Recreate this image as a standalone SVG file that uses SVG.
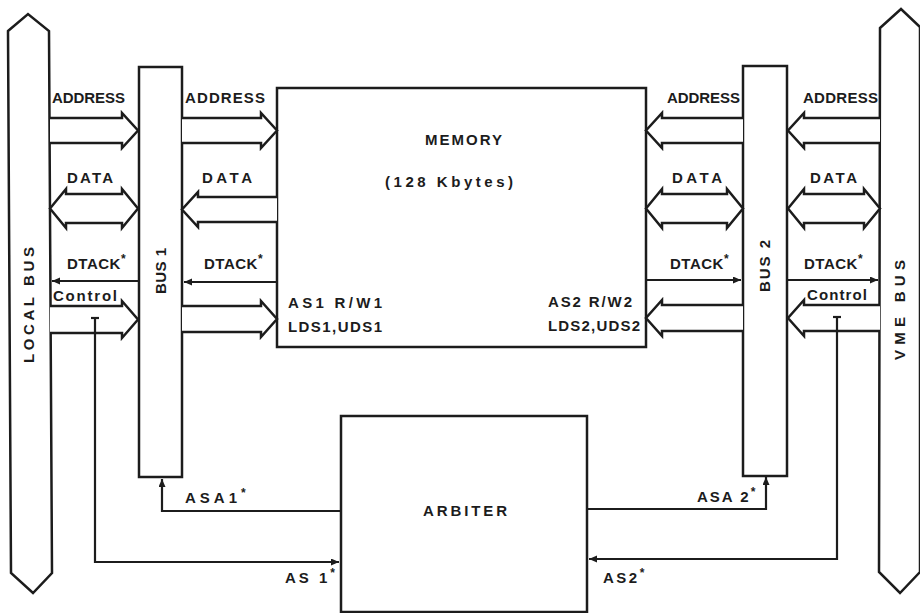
<svg xmlns="http://www.w3.org/2000/svg" width="920" height="613" viewBox="0 0 920 613">
<style>
.n{fill:#fff;stroke:#1c1c1c;stroke-width:2.5;stroke-linejoin:miter}
.a{fill:#fff;stroke:#1c1c1c;stroke-width:2.5;stroke-linejoin:miter}
.l{fill:none;stroke:#1c1c1c;stroke-width:2.2}
.t{font-family:"Liberation Sans",Arial,sans-serif;font-weight:bold;font-size:15px;fill:#1c1c1c}
.c{font-family:"Liberation Sans",Arial,sans-serif;font-weight:bold;font-size:15px;fill:#1c1c1c}
.s{font-size:12px}
</style>
<defs>
<marker id="ah" markerUnits="userSpaceOnUse" markerWidth="9" markerHeight="8" refX="8" refY="3.5" orient="auto">
<path d="M0,0 L8,3.5 L0,7 z" fill="#1c1c1c"/>
</marker>
</defs>
<rect width="920" height="613" fill="#fff"/>

<g id="local-bus">
<polygon class="n" points="8,31 28,14 49,31 52,573 33,593 11,573"/>
<text class="t" transform="translate(34,305) rotate(-90)" text-anchor="middle" textLength="116" lengthAdjust="spacing">LOCAL BUS</text>
</g>
<g id="vme-bus">
<polygon class="n" points="880,28 901,9 920,27 920,572 900,593 879,572"/>
<text class="t" transform="translate(905,310) rotate(-90)" text-anchor="middle" textLength="100" lengthAdjust="spacing">VME BUS</text>
</g>
<g id="bus1">
<rect class="n" x="139" y="67" width="43" height="410"/>
<text class="t" transform="translate(166,271) rotate(-90)" text-anchor="middle" textLength="46" lengthAdjust="spacing">BUS 1</text>
</g>
<g id="bus2">
<rect class="n" x="743" y="66" width="44" height="410"/>
<text class="t" transform="translate(770,266) rotate(-90)" text-anchor="middle" textLength="52" lengthAdjust="spacing">BUS 2</text>
</g>
<g id="memory">
<rect class="n" x="277" y="88" width="369" height="259"/>
<text class="t" x="425" y="145" textLength="77" lengthAdjust="spacing">MEMORY</text>
<text class="t" x="385" y="187" textLength="128" lengthAdjust="spacing">(128 Kbytes)</text>
<text class="t" x="288" y="308" textLength="94" lengthAdjust="spacing">AS1 R/W1</text>
<text class="t" x="288" y="332" textLength="94" lengthAdjust="spacing">LDS1,UDS1</text>
<text class="t" x="548" y="307" textLength="84" lengthAdjust="spacing">AS2 R/W2</text>
<text class="t" x="548" y="331" textLength="92" lengthAdjust="spacing">LDS2,UDS2</text>
</g>
<g id="arbiter">
<rect class="n" x="341" y="416" width="246" height="196"/>
<text class="t" x="423" y="516" textLength="84" lengthAdjust="spacing">ARBITER</text>
</g>

<g id="connectors">
<!-- left: local bus <-> bus1 -->
<path class="a" d="M50,118 H122 V113 L138,130.5 L122,148 V143 H50"/>
<path class="a" d="M50,208.5 L66,189 V194 H122 V189 L138,208.5 L122,228 V223 H66 V228 Z"/>
<path class="a" d="M50,306 H122 V301 L138,319.5 L122,338 V333 H50"/>
<line class="l" x1="138" y1="281" x2="52" y2="281" marker-end="url(#ah)"/>
<!-- bus1 <-> memory -->
<path class="a" d="M182,118 H261 V113 L277,130.5 L261,148 V143 H182"/>
<path class="a" d="M277,197 H198 V192 L182,209.5 L198,227 V222 H277"/>
<path class="a" d="M182,306 H261 V301 L277,319 L261,337 V332 H182"/>
<line class="l" x1="277" y1="282" x2="184" y2="282" marker-end="url(#ah)"/>
<!-- memory <-> bus2 -->
<path class="a" d="M743,118 H662 V113 L646,130.5 L662,148 V143 H743"/>
<path class="a" d="M646,208.5 L662,189 V194 H727 V189 L743,208.5 L727,228 V223 H662 V228 Z"/>
<path class="a" d="M743,305 H662 V300 L646,318 L662,336 V331 H743"/>
<line class="l" x1="646" y1="280" x2="741" y2="280" marker-end="url(#ah)"/>
<!-- bus2 <-> vme bus -->
<path class="a" d="M880,118 H804 V113 L788,130.5 L804,148 V143 H880"/>
<path class="a" d="M788,208.5 L804,189 V194 H864 V189 L880,208.5 L864,228 V223 H804 V228 Z"/>
<path class="a" d="M880,305 H804 V300 L788,318 L804,336 V331 H880"/>
<line class="l" x1="788" y1="280" x2="878" y2="280" marker-end="url(#ah)"/>
<!-- arbiter lines -->
<line class="l" x1="91" y1="318" x2="99" y2="318"/>
<path class="l" d="M95,318 V562 H339" marker-end="url(#ah)"/>
<line class="l" x1="833" y1="317" x2="841" y2="317"/>
<path class="l" d="M837,317 V559 H589" marker-end="url(#ah)"/>
<path class="l" d="M341,511 H162 V479" marker-end="url(#ah)"/>
<path class="l" d="M587,509 H766 V477" marker-end="url(#ah)"/>

<!-- labels -->
<text class="t" x="52" y="103" textLength="73" lengthAdjust="spacing">ADDRESS</text>
<text class="t" x="185" y="103" textLength="80" lengthAdjust="spacing">ADDRESS</text>
<text class="t" x="667" y="103" textLength="73" lengthAdjust="spacing">ADDRESS</text>
<text class="t" x="803" y="103" textLength="75" lengthAdjust="spacing">ADDRESS</text>
<text class="t" x="67" y="183" textLength="46" lengthAdjust="spacing">DATA</text>
<text class="t" x="202" y="183" textLength="50" lengthAdjust="spacing">DATA</text>
<text class="t" x="672" y="183" textLength="50" lengthAdjust="spacing">DATA</text>
<text class="t" x="810" y="183" textLength="47" lengthAdjust="spacing">DATA</text>
<text class="t" x="67" y="269" style="letter-spacing:0.5px">DTACK<tspan class="s" dy="-6">*</tspan></text>
<text class="t" x="204" y="269" style="letter-spacing:0.5px">DTACK<tspan class="s" dy="-6">*</tspan></text>
<text class="t" x="670" y="269" style="letter-spacing:0.5px">DTACK<tspan class="s" dy="-6">*</tspan></text>
<text class="t" x="804" y="269" style="letter-spacing:0.5px">DTACK<tspan class="s" dy="-6">*</tspan></text>
<text class="c" x="53" y="301" textLength="64" lengthAdjust="spacing">Control</text>
<text class="c" x="807" y="300" textLength="60" lengthAdjust="spacing">Control</text>
<text class="t" x="185" y="503" style="letter-spacing:4px">ASA1<tspan class="s" dy="-6">*</tspan></text>
<text class="t" x="285" y="583" style="letter-spacing:3px">AS 1<tspan class="s" dy="-6">*</tspan></text>
<text class="t" x="697" y="502" style="letter-spacing:2px">ASA 2<tspan class="s" dy="-6">*</tspan></text>
<text class="t" x="603" y="583" style="letter-spacing:2.5px">AS2<tspan class="s" dy="-6">*</tspan></text>
</g>
</svg>
